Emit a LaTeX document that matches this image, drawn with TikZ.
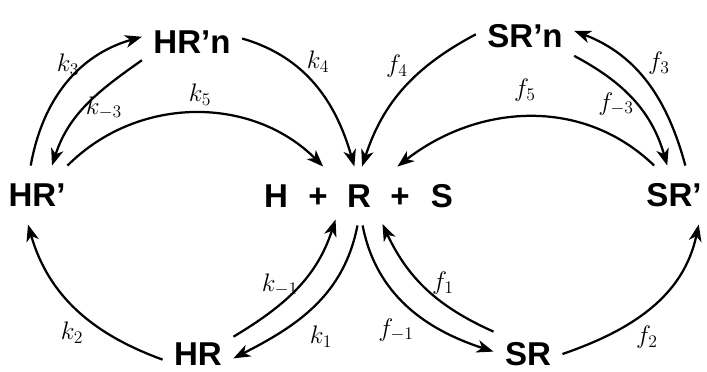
\RequirePackage{fix-cm}
\documentclass[tikz,border=0pt]{standalone}
\usepackage{fontspec}
\setmainfont{Liberation Sans}
\usetikzlibrary{arrows.meta}

\begin{document}
\begin{tikzpicture}[
    x=0.025cm, y=-0.025cm,
    species/.style={font=\fontsize{23.5}{26}\selectfont\bfseries, inner xsep=8pt,
                    inner ysep=12.5pt, text height=16.5pt, text depth=0pt},
    rate/.style={font=\fontsize{18}{20}\selectfont, inner sep=0pt},
    arr/.style={-{Stealth[length=12pt, width=9pt, inset=3.5pt]}, line width=1.6pt},
]
\useasboundingbox (0,0) rectangle (707,371);

% species
\node[species] (hrp) at (37,195) {HR'};
\node[species] (hrn) at (192,42) {HR'n};
\node[species] (hr)  at (198,354) {HR};
\node[species] (srn) at (525,36) {SR'n};
\node[species] (srp) at (674,195) {SR'};
\node[species] (sr)  at (528,354) {SR};

% free H + R + S
\node[species] (h)  at (276,196) {H};
\node[species] (p1) at (318,196) {+};
\node[species] (r)  at (359,196) {R};
\node[species] (p2) at (400,196) {+};
\node[species] (s)  at (442,196) {S};

% left loop
\draw[arr] (hrp.102) to[out=80, in=196] (hrn.174);
\draw[arr] (hrn.-160) to[out=215, in=72] (hrp.63);
\draw[arr] (hrn.4) to[out=-16, in=106] (r.99);
\draw[arr] (hrp.44) to[out=45, in=135] (p1.80);
\draw[arr] (hr.-171) to[out=160, in=-74] (hrp.-107);
\draw[arr] (hr.26) to[out=31, in=252] (r.-135);
\draw[arr] (r.-93) to[out=259, in=27] (hr.-7);

% right loop
\draw[arr] (srn.178) to[out=208, in=72] (r.84);
\draw[arr] (srp.124) to[out=136, in=38] (p2.95);
\draw[arr] (srn.-22) to[out=-28, in=106] (srp.103);
\draw[arr] (srp.69) to[out=105, in=-21] (srn.6);
\draw[arr] (r.-83) to[out=-79, in=162] (sr.176);
\draw[arr] (sr.147) to[out=156, in=-65] (r.-50);
\draw[arr] (sr.0) to[out=19, in=258] (srp.-50);

% rate constants
\node[rate] (lk3)  at (68,65)   {$k_3$};
\node[rate] (lkm3) at (104,108) {$k_{-3}$};
\node[rate] (lk5)  at (200,95)  {$k_5$};
\node[rate] (lk4)  at (318,62)  {$k_4$};
\node[rate] (lkm1) at (280,285) {$k_{-1}$};
\node[rate] (lk1)  at (321,337) {$k_1$};
\node[rate] (lk2)  at (72,333)  {$k_2$};
\node[rate] (lf4)  at (397,66)  {$f_4$};
\node[rate] (lf5)  at (525,90)  {$f_5$};
\node[rate] (lfm3) at (616,104) {$f_{-3}$};
\node[rate] (lf3)  at (659,63)  {$f_3$};
\node[rate] (lf1)  at (443,283) {$f_1$};
\node[rate] (lfm1) at (396,330) {$f_{-1}$};
\node[rate] (lf2)  at (647,337) {$f_2$};

\end{tikzpicture}
\end{document}
